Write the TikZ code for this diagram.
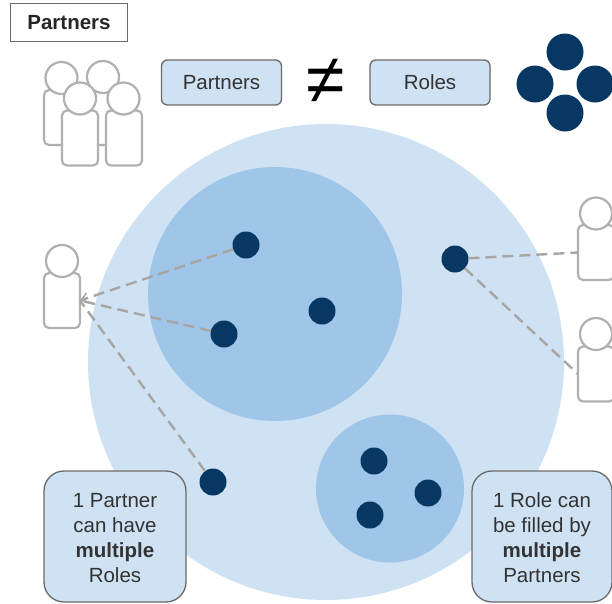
\documentclass[tikz,border=0pt]{standalone}
\usepackage{fontspec}
\setmainfont{Liberation Sans}
\usetikzlibrary{arrows.meta}
\definecolor{lightblue}{HTML}{CFE2F3}
\definecolor{midblue}{HTML}{9FC5E8}
\definecolor{navy}{HTML}{073763}
\definecolor{persongray}{HTML}{B0B0B0}
\definecolor{linkgray}{HTML}{A8A5A2}
\definecolor{edgegray}{HTML}{6A6A6A}
\definecolor{inkgray}{HTML}{333333}
\tikzset{
  x=1pt,y=-1pt,
  every node/.style={inner sep=0pt,outer sep=0pt},
  zone/.style={circle,fill=#1},
  dot/.style={circle,fill=navy,minimum size=27pt},
  bigdot/.style={circle,fill=navy,minimum size=37pt},
  head/.style={circle,draw=persongray,line width=2.2pt,fill=white,minimum size=32pt},
  body/.style={rectangle,draw=persongray,line width=2.2pt,fill=white,rounded corners=5pt,minimum width=36pt,minimum height=55pt},
  tagbox/.style={rectangle,draw=edgegray,line width=1.3pt,fill=lightblue,rounded corners=6pt,text=inkgray,font=\fontsize{20.5}{25}\selectfont},
  callout/.style={tagbox,rounded corners=20pt,align=center,minimum height=131pt},
  link/.style={draw=linkgray,line width=2.4pt,dash pattern=on 11pt off 6pt}
}
\begin{document}
\begin{tikzpicture}
\useasboundingbox (0,0) rectangle (612,603);
% zones
\node[zone=lightblue,minimum size=476pt] (all) at (326,362) {};
\node[zone=midblue,minimum size=254pt] (setA) at (275,294) {};
\node[zone=midblue,minimum size=148pt] (setB) at (390,488.5) {};
% title
\node[rectangle,draw=edgegray,line width=1.3pt,fill=white,minimum width=117pt,minimum height=38pt,font=\fontsize{20.5}{25}\selectfont\bfseries,text=black!85] (title) at (69,22.5) {Partners};
% group of partners
\node[body] (g1) at (62,117.5) {};
\node[body] (g2) at (103,117.5) {};
\node[head] (gh1) at (61.5,78) {};
\node[head] (gh2) at (103,77) {};
\node[body] (g3) at (80,138) {};
\node[body] (g4) at (124,138) {};
\node[head] (gh3) at (80,98.5) {};
\node[head] (gh4) at (123.5,98.5) {};
% top labels
\node[tagbox,minimum width=120pt,minimum height=45pt] (partners) at (221.5,82.5) {Partners};
\node[font=\fontsize{70}{70}\selectfont,text=black] (neq) at (326,81) {≠};
\node[tagbox,minimum width=120pt,minimum height=45pt] (roles) at (430,82.5) {Roles};
% role cluster
\node[bigdot] (r1) at (565,52) {};
\node[bigdot] (r2) at (535,84) {};
\node[bigdot] (r3) at (595,84) {};
\node[bigdot] (r4) at (565,113) {};
% dots
\node[dot] (d1) at (246,245) {};
\node[dot] (d2) at (322,311) {};
\node[dot] (d3) at (224,334) {};
\node[dot] (d4) at (455,259) {};
\node[dot] (d5) at (213,482) {};
\node[dot] (d6) at (374,461) {};
\node[dot] (d7) at (428,493) {};
\node[dot] (d8) at (370,515) {};
% single partners
\node[body] (p1) at (62,300.5) {};
\node[head] (ph1) at (62,261) {};
\node[body] (p2) at (596,252.5) {};
\node[head] (ph2) at (596,213.5) {};
\node[body] (p3) at (596,374) {};
\node[head] (ph3) at (596,334) {};
% connectors
\draw[link,-{Straight Barb[length=7pt,width=10pt,line width=1.5pt]}] (d1) -- (p1.east);
\draw[link] (d3) -- (p1.east);
\draw[link] (d5) -- (p1.east);
\draw[link] (d4) -- (p2.west);
\draw[link] (d4) -- (p3.west);
% callouts
\node[callout,minimum width=142pt] (c1) at (115,536.5) {\rule{0pt}{17.5pt}1 Partner\\can have\\\textbf{multiple}\\Roles};
\node[callout,minimum width=140pt] (c2) at (542,536.5) {\rule{0pt}{17.5pt}1 Role can\\be filled by\\\textbf{multiple}\\Partners};
\end{tikzpicture}
\end{document}
